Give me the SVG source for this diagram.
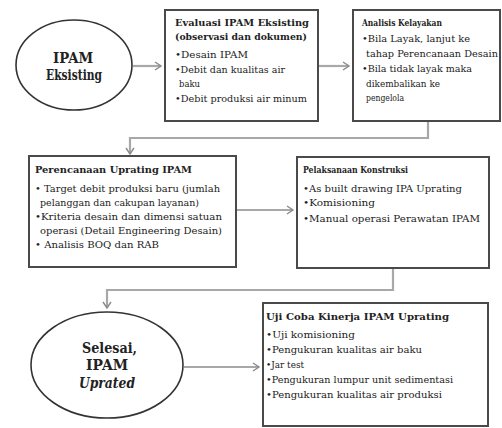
<svg xmlns="http://www.w3.org/2000/svg" width="502" height="428" viewBox="0 0 502 428">
<style>
.box{fill:#fff;stroke:#4a4a4a;stroke-width:2}
.ell{fill:#fff;stroke:#333;stroke-width:1.6}
.ln{fill:none;stroke:#a8a8a8;stroke-width:2.2}
text{font-family:"DejaVu Serif","Liberation Serif",serif;fill:#222}
.t{font-size:10px}
.s{font-size:9px}
.h{font-size:10px;font-weight:bold}
.hs{font-size:9px;font-weight:bold}
.e{font-size:14px;font-weight:bold}
</style>
<defs>
<marker id="ah" markerWidth="10" markerHeight="10" refX="7" refY="5" orient="auto" markerUnits="userSpaceOnUse">
<path d="M1,1 L7,5 L1,9" fill="none" stroke="#8a8a8a" stroke-width="1.4"/>
</marker>
</defs>
<g id="connectors">
<line class="ln" x1="133" y1="66" x2="161" y2="66" marker-end="url(#ah)"/>
<line class="ln" x1="319" y1="66" x2="349" y2="66" marker-end="url(#ah)"/>
<polyline class="ln" points="428,122 428,138 130,138 130,154" marker-end="url(#ah)"/>
<line class="ln" x1="237" y1="210" x2="293" y2="210" marker-end="url(#ah)"/>
<polyline class="ln" points="393,269 393,290 107,290 107,308" marker-end="url(#ah)"/>
<line class="ln" x1="184" y1="367" x2="259" y2="367" marker-end="url(#ah)"/>
</g>
<g id="start">
<ellipse class="ell" cx="74" cy="65" rx="58" ry="45"/>
<text class="e" x="53" y="63" textLength="40" lengthAdjust="spacingAndGlyphs">IPAM</text>
<text class="e" x="46" y="80" textLength="56" lengthAdjust="spacingAndGlyphs">Eksisting</text>
</g>
<g id="evaluasi">
<rect class="box" x="165" y="10" width="153" height="111"/>
<text class="h" x="175" y="26" textLength="134" lengthAdjust="spacingAndGlyphs">Evaluasi IPAM Eksisting</text>
<text class="h" x="175" y="40" textLength="132" lengthAdjust="spacingAndGlyphs">(observasi dan dokumen)</text>
<text class="t" x="175" y="58" textLength="73" lengthAdjust="spacingAndGlyphs">•Desain IPAM</text>
<text class="t" x="175" y="73" textLength="110" lengthAdjust="spacingAndGlyphs">•Debit dan kualitas air</text>
<text class="s" x="179" y="87" textLength="21" lengthAdjust="spacingAndGlyphs">baku</text>
<text class="t" x="175" y="102" textLength="132" lengthAdjust="spacingAndGlyphs">•Debit produksi air minum</text>
</g>
<g id="kelayakan">
<rect class="box" x="353" y="10" width="147" height="111"/>
<text class="hs" x="362" y="26" textLength="80" lengthAdjust="spacingAndGlyphs">Analisis Kelayakan</text>
<text class="t" x="362" y="42" textLength="108" lengthAdjust="spacingAndGlyphs">•Bila Layak, lanjut ke</text>
<text class="t" x="366" y="57" textLength="132" lengthAdjust="spacingAndGlyphs">tahap Perencanaan Desain</text>
<text class="t" x="362" y="72" textLength="110" lengthAdjust="spacingAndGlyphs">•Bila tidak layak maka</text>
<text class="t" x="366" y="87" textLength="74" lengthAdjust="spacingAndGlyphs">dikembalikan ke</text>
<text class="s" x="366" y="101" textLength="38" lengthAdjust="spacingAndGlyphs">pengelola</text>
</g>
<g id="perencanaan">
<rect class="box" x="29" y="156" width="207" height="111"/>
<text class="h" x="35" y="173" textLength="157" lengthAdjust="spacingAndGlyphs">Perencanaan Uprating IPAM</text>
<text class="t" x="35" y="192" textLength="185" lengthAdjust="spacingAndGlyphs">• Target debit produksi baru (jumlah</text>
<text class="t" x="40" y="206" textLength="159" lengthAdjust="spacingAndGlyphs">pelanggan  dan cakupan layanan)</text>
<text class="t" x="35" y="220" textLength="187" lengthAdjust="spacingAndGlyphs">•Kriteria  desain dan dimensi  satuan</text>
<text class="t" x="40" y="234" textLength="182" lengthAdjust="spacingAndGlyphs">operasi (Detail  Engineering  Desain)</text>
<text class="t" x="35" y="248" textLength="124" lengthAdjust="spacingAndGlyphs">• Analisis  BOQ dan RAB</text>
</g>
<g id="konstruksi">
<rect class="box" x="297" y="157" width="192" height="111"/>
<text class="hs" x="303" y="173" textLength="105" lengthAdjust="spacingAndGlyphs">Pelaksanaan Konstruksi</text>
<text class="t" x="303" y="192" textLength="159" lengthAdjust="spacingAndGlyphs">•As built drawing IPA Uprating</text>
<text class="t" x="303" y="206" textLength="72" lengthAdjust="spacingAndGlyphs">•Komisioning</text>
<text class="t" x="303" y="222" textLength="177" lengthAdjust="spacingAndGlyphs">•Manual operasi Perawatan IPAM</text>
</g>
<g id="selesai">
<ellipse class="ell" cx="107" cy="365" rx="76" ry="53"/>
<text class="e" x="82" y="353" textLength="55" lengthAdjust="spacingAndGlyphs">Selesai,</text>
<text class="e" x="86" y="370" textLength="42" lengthAdjust="spacingAndGlyphs">IPAM</text>
<text class="e" x="79" y="388" font-style="italic" textLength="56" lengthAdjust="spacingAndGlyphs">Uprated</text>
</g>
<g id="ujicoba">
<rect class="box" x="263" y="303" width="225" height="123"/>
<text class="h" x="266" y="320" textLength="183" lengthAdjust="spacingAndGlyphs">Uji Coba Kinerja IPAM Uprating</text>
<text class="t" x="266" y="338" textLength="89" lengthAdjust="spacingAndGlyphs">•Uji komisioning</text>
<text class="t" x="266" y="353" textLength="156" lengthAdjust="spacingAndGlyphs">•Pengukuran kualitas air baku</text>
<text class="t" x="266" y="368" textLength="38" lengthAdjust="spacingAndGlyphs">•Jar test</text>
<text class="t" x="266" y="383" textLength="187" lengthAdjust="spacingAndGlyphs">•Pengukuran lumpur unit sedimentasi</text>
<text class="t" x="266" y="398" textLength="176" lengthAdjust="spacingAndGlyphs">•Pengukuran kualitas air produksi</text>
</g>
</svg>
